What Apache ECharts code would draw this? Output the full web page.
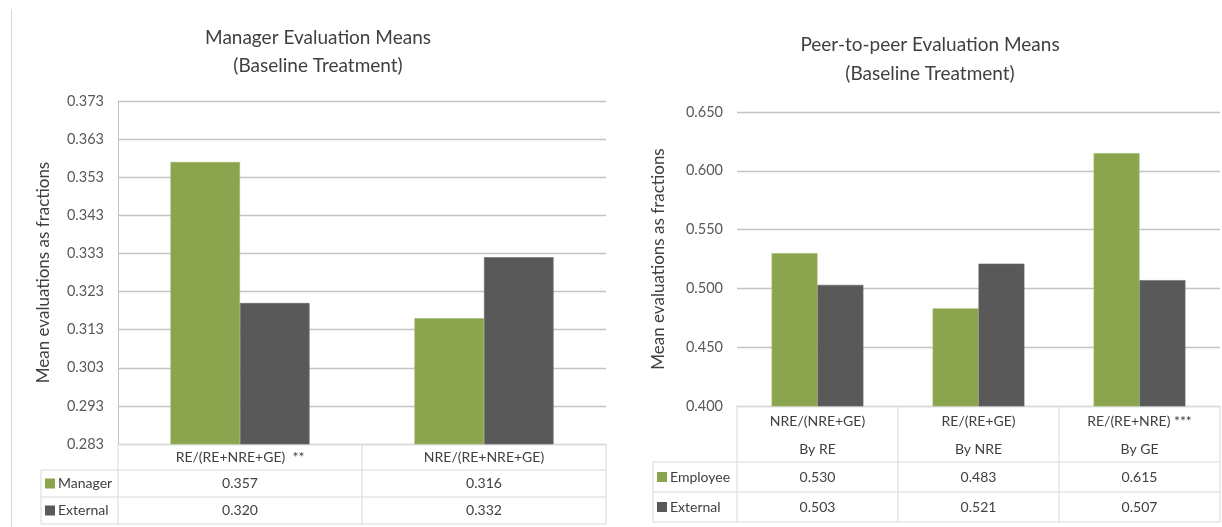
<!DOCTYPE html>
<html>
<head>
<meta charset="utf-8">
<script src="https://cdn.jsdelivr.net/npm/echarts@6/dist/echarts.min.js"></script>
<style>
  html, body { margin: 0; padding: 0; background: #fff; }
  #chart { width: 1222px; height: 527px; }
</style>
</head>
<body>
<div id="chart"></div>
<script>
// Manager evaluation means (left panel)
const managerCategories = ['RE/(RE+NRE+GE)  **', 'NRE/(RE+NRE+GE)'];
const managerSeriesNames = ['Manager', 'External'];
const managerValues = [0.357, 0.316];
const managerExternalValues = [0.320, 0.332];
const managerAxis = { min: 0.283, max: 0.373, interval: 0.01 };

// Peer-to-peer evaluation means (right panel)
const peerCategories = ['NRE/(NRE+GE)', 'RE/(RE+GE)', 'RE/(RE+NRE) ***'];
const peerSubCategories = ['By RE', 'By NRE', 'By GE'];
const peerSeriesNames = ['Employee', 'External'];
const employeeValues = [0.530, 0.483, 0.615];
const peerExternalValues = [0.503, 0.521, 0.507];
const peerAxis = { min: 0.400, max: 0.650, interval: 0.05 };

const GREEN = '#8aa54e';
const DARK = '#595959';
const FONT = 'Lato, "Open Sans", sans-serif';
const TEXT = '#404040';
const GRID_LINE = '#c4c4c4';
const TABLE_LINE = '#d9d9d9';

const chart = echarts.init(document.getElementById('chart'), null, { renderer: 'canvas' });

function valueAxis(gridIndex, ax, showLine, gap) {
  return {
    type: 'value', gridIndex,
    min: ax.min, max: ax.max, interval: ax.interval,
    name: 'Mean evaluations as fractions',
    nameLocation: 'middle', nameGap: gap, nameRotate: 90,
    nameTextStyle: { fontFamily: FONT, fontSize: 17, color: '#404040' },
    axisLine: { show: showLine, lineStyle: { color: GRID_LINE, width: 1 } },
    axisTick: { show: false },
    axisLabel: {
      fontFamily: FONT, fontSize: 14.5, color: '#595959', margin: 14,
      formatter: v => v.toFixed(3)
    },
    splitLine: { lineStyle: { color: GRID_LINE, width: 1.3 } }
  };
}

function catAxis(gridIndex, cats) {
  return {
    type: 'category', gridIndex, data: cats,
    axisLine: { show: true, lineStyle: { color: TABLE_LINE, width: 1 } },
    axisTick: { show: false },
    axisLabel: { show: false }
  };
}

function barSeries(name, data, color, idx) {
  return {
    type: 'bar', name, data, xAxisIndex: idx, yAxisIndex: idx,
    barGap: '0%', barCategoryGap: '43%',
    itemStyle: { color, borderColor: color === GREEN ? '#9cb864' : '#6a6a6a', borderWidth: 0.6 },
    emphasis: { disabled: true }
  };
}

const option = {
  animation: false,
  backgroundColor: '#ffffff',
  title: [
    {
      text: 'Manager Evaluation Means\n(Baseline Treatment)',
      left: 313, top: 19, textAlign: 'center',
      textStyle: { fontFamily: FONT, fontSize: 19, fontWeight: 'normal', color: TEXT, lineHeight: 28 }
    },
    {
      text: 'Peer-to-peer Evaluation Means\n(Baseline Treatment)',
      left: 925, top: 25, textAlign: 'center',
      textStyle: { fontFamily: FONT, fontSize: 19, fontWeight: 'normal', color: TEXT, lineHeight: 29 }
    }
  ],
  grid: [
    { left: 118, right: 1222 - 606, top: 101, bottom: 527 - 444 },
    { left: 737, right: 2, top: 112, bottom: 527 - 406 }
  ],
  xAxis: [catAxis(0, managerCategories), catAxis(1, peerCategories)],
  yAxis: [valueAxis(0, managerAxis, true, 66), valueAxis(1, peerAxis, false, 70)],
  series: [
    barSeries(managerSeriesNames[0], managerValues, GREEN, 0),
    barSeries(managerSeriesNames[1], managerExternalValues, DARK, 0),
    barSeries(peerSeriesNames[0], employeeValues, GREEN, 1),
    barSeries(peerSeriesNames[1], peerExternalValues, DARK, 1)
  ]
};
chart.setOption(option);

// Data tables under each plot, aligned to the category bands
function bandEdges(axisIndex, n) {
  const centers = [];
  for (let i = 0; i < n; i++) centers.push(chart.convertToPixel({ xAxisIndex: axisIndex }, i));
  const half = n > 1 ? (centers[1] - centers[0]) / 2 : 0;
  const edges = centers.map(c => c - half);
  edges.push(centers[n - 1] + half);
  return { centers, edges };
}

function hLine(x1, x2, y) {
  return { type: 'line', shape: { x1, y1: y, x2, y2: y }, style: { stroke: TABLE_LINE, lineWidth: 1 }, silent: true };
}
function vLine(x, y1, y2) {
  return { type: 'line', shape: { x1: x, y1, x2: x, y2 }, style: { stroke: TABLE_LINE, lineWidth: 1 }, silent: true };
}
function txt(text, x, y, align) {
  return {
    type: 'text', x, y, silent: true,
    style: { text, fill: TEXT, font: '14px ' + FONT, textAlign: align || 'center', textVerticalAlign: 'middle' }
  };
}
function swatch(x, y, color) {
  return { type: 'rect', shape: { x, y: y - 5, width: 10, height: 10 }, style: { fill: color }, silent: true };
}

const graphics = [];

// Left table
(function () {
  const { centers, edges } = bandEdges(0, managerCategories.length);
  const top = chart.convertToPixel({ yAxisIndex: 0 }, managerAxis.min);
  const labelLeft = 41;
  const rows = [top, top + 26, top + 53, top + 80];
  const right = edges[edges.length - 1];
  graphics.push(hLine(labelLeft, right, rows[1]), hLine(labelLeft, right, rows[2]), hLine(labelLeft, right, rows[3]));
  graphics.push(vLine(labelLeft, rows[1], rows[3]));
  edges.forEach(x => graphics.push(vLine(x, rows[0], rows[3])));
  managerCategories.forEach((c, i) => graphics.push(txt(c, centers[i], (rows[0] + rows[1]) / 2)));
  const seriesRows = [managerValues, managerExternalValues];
  const colors = [GREEN, DARK];
  seriesRows.forEach((vals, r) => {
    const cy = (rows[r + 1] + rows[r + 2]) / 2;
    graphics.push(swatch(45, cy, colors[r]));
    graphics.push(txt(managerSeriesNames[r], 58, cy, 'left'));
    vals.forEach((v, i) => graphics.push(txt(v.toFixed(3), centers[i], cy)));
  });
})();

// Right table
(function () {
  const { centers, edges } = bandEdges(1, peerCategories.length);
  const top = chart.convertToPixel({ yAxisIndex: 1 }, peerAxis.min);
  const labelLeft = 653;
  const rows = [top, top + 56, top + 86, top + 116];
  const right = edges[edges.length - 1];
  graphics.push(hLine(labelLeft, right, rows[1]), hLine(labelLeft, right, rows[2]), hLine(labelLeft, right, rows[3]));
  graphics.push(vLine(labelLeft, rows[1], rows[3]));
  edges.forEach(x => graphics.push(vLine(x, rows[0], rows[3])));
  peerCategories.forEach((c, i) => {
    graphics.push(txt(c, centers[i], rows[0] + 15));
    graphics.push(txt(peerSubCategories[i], centers[i], rows[0] + 43));
  });
  const seriesRows = [employeeValues, peerExternalValues];
  const colors = [GREEN, DARK];
  seriesRows.forEach((vals, r) => {
    const cy = (rows[r + 1] + rows[r + 2]) / 2;
    graphics.push(swatch(657, cy, colors[r]));
    graphics.push(txt(peerSeriesNames[r], 670, cy, 'left'));
    vals.forEach((v, i) => graphics.push(txt(v.toFixed(3), centers[i], cy)));
  });
})();

// Thin frame line along the left edge of the page
graphics.push({ type: 'line', shape: { x1: 11.5, y1: 9, x2: 11.5, y2: 527 }, style: { stroke: '#d9d9d9', lineWidth: 1 }, silent: true });

chart.setOption({ graphic: graphics });
</script>
</body>
</html>
